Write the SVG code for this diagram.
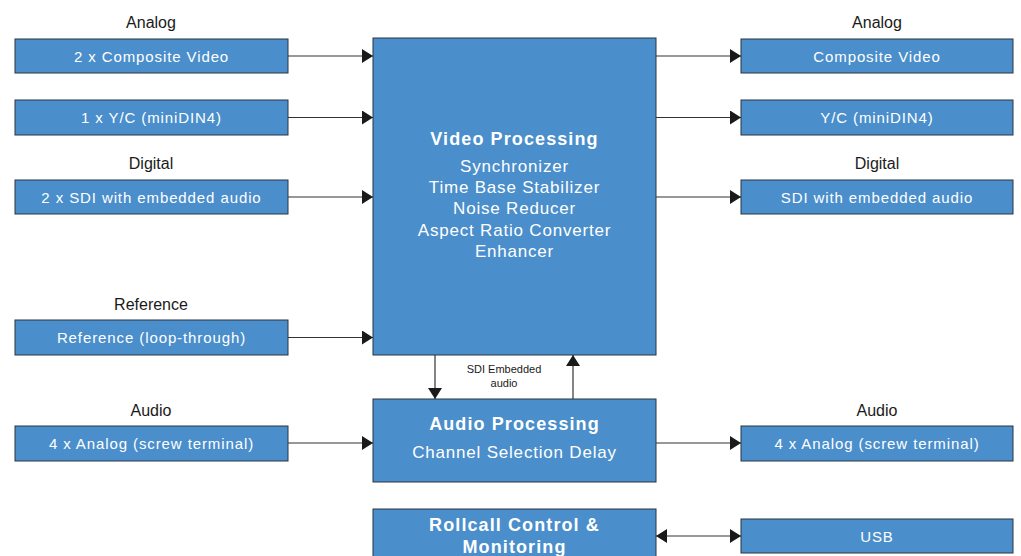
<svg xmlns="http://www.w3.org/2000/svg" width="1021" height="556" viewBox="0 0 1021 556">
<defs>
<marker id="ah" markerUnits="userSpaceOnUse" markerWidth="12" markerHeight="14" refX="11" refY="7" orient="auto-start-reverse">
<path d="M0,0 L11,7 L0,14 Z" fill="#1a1a1a"/>
</marker>
</defs>
<style>
.box{fill:#4a8ecb;stroke:#2b3440;stroke-width:1}
.bt{font-family:"Liberation Sans",Arial,sans-serif;font-size:15px;fill:#fff;text-anchor:middle;dominant-baseline:central;letter-spacing:0.9px}
.lb{font-family:"Liberation Sans",Arial,sans-serif;font-size:16px;fill:#1a1a1a;text-anchor:middle;dominant-baseline:central}
.hd{font-family:"Liberation Sans",Arial,sans-serif;font-size:18px;font-weight:bold;fill:#fff;text-anchor:middle;dominant-baseline:central;letter-spacing:1.1px}
.ct{font-family:"Liberation Sans",Arial,sans-serif;font-size:17px;fill:#fff;text-anchor:middle;dominant-baseline:central;letter-spacing:0.8px}
.sm{font-family:"Liberation Sans",Arial,sans-serif;font-size:11px;fill:#1a1a1a;text-anchor:middle;dominant-baseline:central}
.cn{stroke:#333;stroke-width:1.2;fill:none;marker-end:url(#ah)}
</style>
<rect width="1021" height="556" fill="#fff"/>

<g id="labels">
<text class="lb" x="151" y="22">Analog</text>
<text class="lb" x="151" y="163">Digital</text>
<text class="lb" x="151" y="304">Reference</text>
<text class="lb" x="151" y="410">Audio</text>
<text class="lb" x="877" y="22">Analog</text>
<text class="lb" x="877" y="163">Digital</text>
<text class="lb" x="877" y="410">Audio</text>
</g>

<g id="in-composite"><rect class="box" x="15" y="39" width="273" height="34"/><text class="bt" x="151.5" y="56">2 x Composite Video</text></g>
<g id="in-yc"><rect class="box" x="15" y="100" width="273" height="35"/><text class="bt" x="151.5" y="117.5">1 x Y/C (miniDIN4)</text></g>
<g id="in-sdi"><rect class="box" x="15" y="180" width="273" height="34"/><text class="bt" x="151.5" y="197">2 x SDI with embedded audio</text></g>
<g id="in-ref"><rect class="box" x="15" y="320" width="273" height="35"/><text class="bt" x="151.5" y="337.5">Reference (loop-through)</text></g>
<g id="in-audio"><rect class="box" x="15" y="426" width="273" height="35"/><text class="bt" x="151.5" y="443">4 x Analog (screw terminal)</text></g>

<g id="video-proc"><rect class="box" x="373" y="38" width="283" height="317"/>
<text class="hd" x="514.5" y="139">Video Processing</text>
<text class="ct" x="514.5" y="166">Synchronizer</text>
<text class="ct" x="514.5" y="187">Time Base Stabilizer</text>
<text class="ct" x="514.5" y="208">Noise Reducer</text>
<text class="ct" x="514.5" y="230">Aspect Ratio Converter</text>
<text class="ct" x="514.5" y="251">Enhancer</text>
</g>
<g id="audio-proc"><rect class="box" x="373" y="399" width="283" height="83"/>
<text class="hd" x="514.5" y="424">Audio Processing</text>
<text class="ct" x="514.5" y="452">Channel Selection Delay</text>
</g>
<g id="rollcall"><rect class="box" x="373" y="509" width="283" height="60"/>
<text class="hd" x="514.5" y="525">Rollcall Control &amp;</text>
<text class="hd" x="514.5" y="547">Monitoring</text>
</g>

<g id="out-composite"><rect class="box" x="741" y="39" width="272" height="34"/><text class="bt" x="877" y="56">Composite Video</text></g>
<g id="out-yc"><rect class="box" x="741" y="100" width="272" height="35"/><text class="bt" x="877" y="117.5">Y/C (miniDIN4)</text></g>
<g id="out-sdi"><rect class="box" x="741" y="180" width="272" height="34"/><text class="bt" x="877" y="197">SDI with embedded audio</text></g>
<g id="out-audio"><rect class="box" x="741" y="426" width="272" height="35"/><text class="bt" x="877" y="443">4 x Analog (screw terminal)</text></g>
<g id="usb"><rect class="box" x="741" y="519" width="272" height="34"/><text class="bt" x="877" y="536">USB</text></g>

<g id="connectors">
<line class="cn" x1="288" y1="56" x2="373" y2="56"/>
<line class="cn" x1="288" y1="117.5" x2="373" y2="117.5"/>
<line class="cn" x1="288" y1="197" x2="373" y2="197"/>
<line class="cn" x1="288" y1="337.5" x2="373" y2="337.5"/>
<line class="cn" x1="288" y1="443" x2="373" y2="443"/>
<line class="cn" x1="656" y1="56" x2="741" y2="56"/>
<line class="cn" x1="656" y1="117.5" x2="741" y2="117.5"/>
<line class="cn" x1="656" y1="197" x2="741" y2="197"/>
<line class="cn" x1="656" y1="443" x2="741" y2="443"/>
<line class="cn" x1="656" y1="536" x2="741" y2="536" style="marker-start:url(#ah)"/>
<line class="cn" x1="435" y1="355" x2="435" y2="399"/>
<line class="cn" x1="573" y1="399" x2="573" y2="355"/>
<text class="sm" x="504" y="369">SDI Embedded</text>
<text class="sm" x="504" y="383">audio</text>
</g>
</svg>
